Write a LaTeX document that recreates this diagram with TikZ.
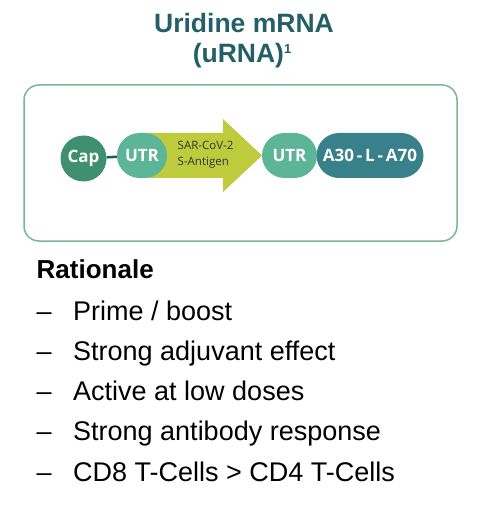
\documentclass[tikz,border=0pt]{standalone}
\usepackage{fontspec}
\setmainfont{Liberation Sans}
\newfontfamily\pillfont{Open Sans}
\usetikzlibrary{shapes.misc}

\definecolor{ttlteal}{HTML}{245F68}
\definecolor{boxgrn}{HTML}{7AB597}
\definecolor{capgrn}{HTML}{3F9070}
\definecolor{utrgrn}{HTML}{5DB597}
\definecolor{antyel}{HTML}{BECB3C}
\definecolor{polyteal}{HTML}{38808A}
\definecolor{lnkteal}{HTML}{1E5A62}

\begin{document}
\begin{tikzpicture}[x=1pt,y=-1pt,line cap=round,line join=round,
    ttl/.style={font=\bfseries\fontsize{26.5}{30}\selectfont,text=ttlteal,anchor=base},
    pill/.style={rounded rectangle,inner sep=0pt,minimum height=45pt,text=white,
      font=\pillfont\bfseries\fontsize{17}{20}\selectfont},
    item/.style={font=\fontsize{27}{30}\selectfont,anchor=base west,inner sep=0pt}]
  \useasboundingbox (0,0) rectangle (478,510);
  % title
  \node[ttl] (title1) at (244,33) {Uridine mRNA};
  \node[ttl] (title2) at (242,63) {(uRNA)\raisebox{9pt}{\fontsize{13}{13}\selectfont 1}};
  % construct
  \draw[line width=1.5pt,color=boxgrn,rounded corners=15pt] (24,85) rectangle (457,241);
  \fill[antyel] (140,133)--(223,133)--(223,119)--(262,155.5)--(223,192)--(223,178)--(140,178)--cycle;
  \node[pill,fill=utrgrn,minimum width=50pt] (utr5) at (142,155.5) {UTR};
  \node[circle,fill=capgrn,minimum size=46pt,inner sep=0pt,text=white,
    font=\pillfont\bfseries\fontsize{17}{20}\selectfont] (cap) at (83.5,158.5) {Cap};
  \draw[line width=2.5pt,color=lnkteal,line cap=butt] (cap) -- (utr5);
  \node[anchor=base west,inner sep=0pt,align=left,text=black!80,
    font=\pillfont\fontsize{11.5}{16}\selectfont] (spike) at (177.5,165.5) {SAR-CoV-2\\S-Antigen};
  \node[pill,fill=polyteal,minimum width=107pt] (polya) at (370,155.5) {A30\,-\,L\,-\,A70};
  \node[pill,fill=utrgrn,minimum width=55pt] (utr3) at (289.5,155.5) {UTR};
  % rationale
  \node[item,font=\bfseries\fontsize{26}{30}\selectfont] (rat) at (36.5,278) {Rationale};
  \node[item] (d1) at (36.5,320) {–};
  \node[item] (t1) at (73,320) {Prime / boost};
  \node[item] (d2) at (36.5,360) {–};
  \node[item] (t2) at (73,360) {Strong adjuvant effect};
  \node[item] (d3) at (36.5,400) {–};
  \node[item] (t3) at (73,400) {Active at low doses};
  \node[item] (d4) at (36.5,440) {–};
  \node[item] (t4) at (73,440) {Strong antibody response};
  \node[item] (d5) at (36.5,481) {–};
  \node[item] (t5) at (73,481) {CD8 T-Cells > CD4 T-Cells};
\end{tikzpicture}
\end{document}
